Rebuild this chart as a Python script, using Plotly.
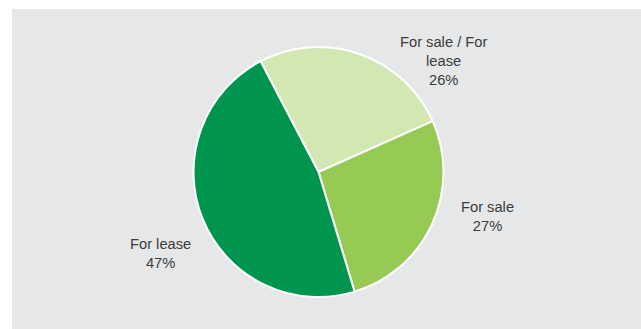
import plotly.graph_objects as go

# Listing status shares (percent)
categories = ["For sale / For lease", "For sale", "For lease"]
label_lines = ["For sale / For<br>lease", "For sale", "For lease"]
shares = [26, 27, 47]
colors = ["#d3e7b2", "#97c955", "#00954f"]

W, H = 641, 329
cx, cy, r = 318.5, 172.0, 125.0  # pie centre / radius in pixels (from top-left)

fig = go.Figure()
fig.add_trace(go.Pie(
    labels=categories,
    values=shares,
    sort=False,
    direction="clockwise",
    rotation=-27.6,
    marker=dict(colors=colors, line=dict(color="#ffffff", width=2)),
    textinfo="none",
    hoverinfo="label+percent",
    showlegend=False,
    domain=dict(x=[(cx - r) / W, (cx + r) / W],
                y=[(H - cy - r) / H, (H - cy + r) / H]),
))

# Outside labels: name and share
label_pos = [(443, 61), (487, 216), (160, 253)]
for text, val, (px, py) in zip(label_lines, shares, label_pos):
    fig.add_annotation(
        x=px / W, y=1 - py / H, xref="paper", yref="paper",
        text=f"{text}<br>{val}%", showarrow=False,
        align="center", xanchor="center", yanchor="middle",
        font=dict(family="Liberation Sans, Arial, sans-serif", size=14.7, color="#3c3c3c"),
    )

# Grey panel behind the chart
fig.add_shape(type="rect", xref="paper", yref="paper",
              x0=12 / W, x1=1, y0=0, y1=1 - 9 / H,
              fillcolor="#e6e7e8", line=dict(width=0), layer="below")

fig.update_layout(
    width=W, height=H,
    margin=dict(l=0, r=0, t=0, b=0),
    paper_bgcolor="#ffffff",
    plot_bgcolor="#ffffff",
)

fig.write_html("out.html")
